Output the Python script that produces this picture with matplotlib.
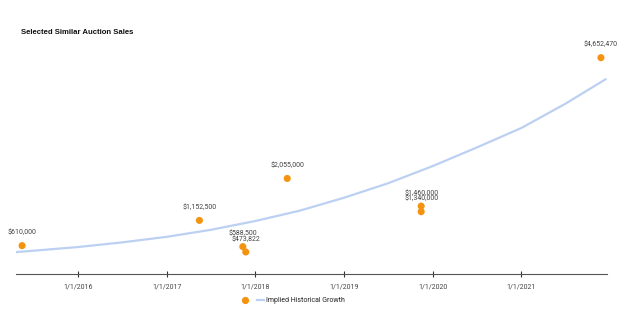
import matplotlib
matplotlib.use("Agg")
import matplotlib.pyplot as plt
from matplotlib.lines import Line2D
import datetime as dt

# ---- data ----
sale_dates = ["2015-05-15", "2017-05-15", "2017-11-10", "2017-11-22", "2018-05-12",
              "2019-11-15", "2019-11-15", "2021-11-25"]
sale_values = [610000, 1152500, 588500, 473822, 2055000, 1460000, 1340000, 4652470]
sale_labels = ["$610,000", "$1,152,500", "$588,500", "$473,822", "$2,055,000",
               "$1,460,000", "$1,340,000", "$4,652,470"]

growth_dates = ["2015-04-20", "2016-01-01", "2016-07-01", "2017-01-01", "2017-07-01",
                "2018-01-01", "2018-07-01", "2019-01-01", "2019-07-01", "2020-01-01",
                "2020-07-01", "2021-01-01", "2021-07-01", "2021-12-15"]
growth_values = [470000, 580000, 680000, 800000, 950000, 1140000, 1360000, 1640000,
                 1950000, 2320000, 2720000, 3140000, 3660000, 4190000]

tick_years = [2016, 2017, 2018, 2019, 2020, 2021]
title = "Selected Similar Auction Sales"
legend_label = "Implied Historical Growth"

# ---- style ----
ORANGE = "#f4930f"
BLUE = "#bcd0f2"
TXT = "#444444"

to_dt = lambda s: dt.datetime.strptime(s, "%Y-%m-%d")
sx = [to_dt(s) for s in sale_dates]
gx = [to_dt(s) for s in growth_dates]

fig = plt.figure(figsize=(6.24, 3.23), dpi=100)
ax = fig.add_axes([16/624, 1-274/323, (607-16)/624, (274-41.5)/323])

ax.plot(gx, growth_values, color=BLUE, lw=1.6, solid_capstyle="round",
        solid_joinstyle="round", zorder=2)
ax.scatter(sx, sale_values, s=26, color=ORANGE, edgecolors="none", zorder=3)

for x, y, lab in zip(sx, sale_values, sale_labels):
    ax.annotate(lab, (x, y), xytext=(0, 9.2), textcoords="offset points",
                ha="center", va="center", fontsize=5, family="Roboto", color=TXT)

ax.set_xlim(dt.datetime(2015, 4, 20), dt.datetime(2021, 12, 20))
ax.set_ylim(0, 5000000)

ticks = [dt.datetime(y, 1, 1) for y in tick_years]
ax.set_xticks(ticks)
ax.set_xticklabels([f"{d.month}/{d.day}/{d.year}" for d in ticks],
                   fontsize=5, family="Roboto", color=TXT)
ax.tick_params(axis="x", direction="inout", length=5, width=0.8, color="#333333", pad=4)
ax.set_yticks([])
for s in ["top", "right", "left"]:
    ax.spines[s].set_visible(False)
ax.spines["bottom"].set_color("#555555")
ax.spines["bottom"].set_linewidth(0.8)

fig.text(21/624, 1-33/323, title, fontsize=5.6, fontweight="bold",
         family="Liberation Sans", color="#111111", va="center", ha="left")

handles = [Line2D([], [], ls="none", marker="o", ms=5.2, color=ORANGE, mec="none"),
           Line2D([], [], color=BLUE, lw=1.6)]
leg = fig.legend(handles, ["", legend_label], ncol=2, loc="center left",
                 bbox_to_anchor=(242/624, 1-301/323), frameon=False,
                 prop={"family": "Roboto", "size": 5}, handlelength=0.9,
                 handletextpad=0.4, columnspacing=0.9, borderpad=0, borderaxespad=0)
for t in leg.get_texts():
    t.set_color("#222222")

fig.savefig("out.png", dpi=100)
